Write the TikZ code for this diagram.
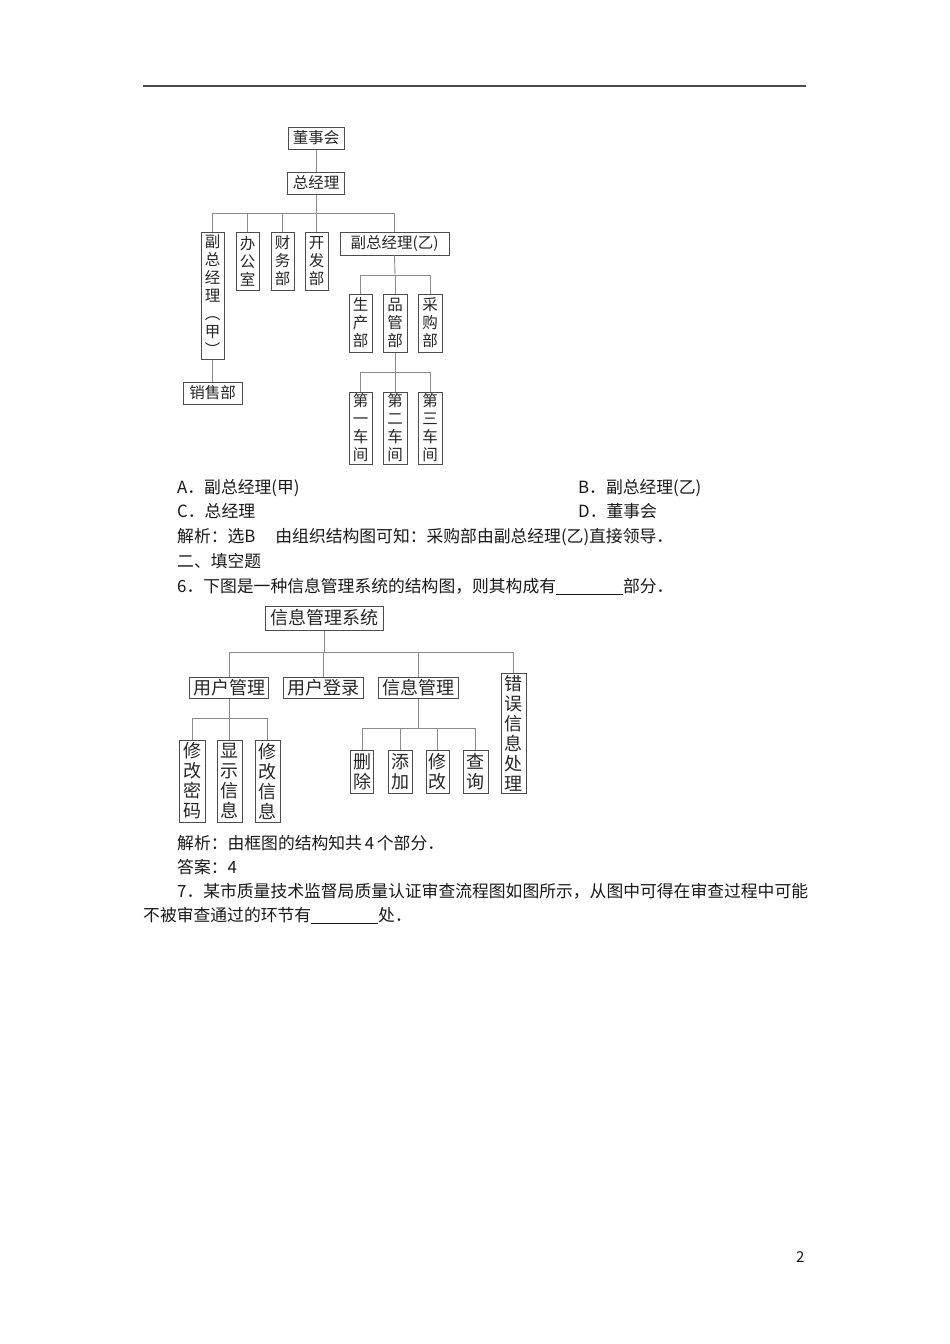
\documentclass[tikz,border=0pt]{standalone}
\usepackage{fontspec}
\setmainfont{Noto Sans CJK SC}
\begin{document}
\begin{tikzpicture}[x=1pt,y=-1pt,
  box/.style={draw=black!70, line width=1pt, inner sep=0pt, text=black!85},
  dA/.style={box, font=\fontsize{15.5}{18}\selectfont, align=center},
  dB/.style={box, font=\fontsize{18}{20}\selectfont, align=center},
  link/.style={draw=black!45, line width=0.9pt},
  txt/.style={anchor=base west, inner sep=0pt, font=\fontsize{16.8}{25}\selectfont, text=black!90}]
\useasboundingbox (0,0) rectangle (950,1344);
\fill[white] (0,0) rectangle (950,1344);

% top rule
\draw[line width=1.5pt, black!70] (143,86) -- (806,86);

% ---------- Diagram 1 ----------
\node[dA, minimum width=56, minimum height=22] (dsh) at (316,138) {董事会};
\node[dA, minimum width=57, minimum height=22] (zjl) at (316,183) {总经理};
\node[dA, minimum width=23, minimum height=127] (fzA) at (212.5,295.5) {副\\总\\经\\理\\︵\\甲\\︶};
\node[dA, minimum width=23, minimum height=58] (bgs) at (247.5,261) {办\\公\\室};
\node[dA, minimum width=23, minimum height=58] (cwb) at (282.5,261) {财\\务\\部};
\node[dA, minimum width=23, minimum height=58] (kfb) at (316.5,261) {开\\发\\部};
\node[dA, minimum width=109, minimum height=23] (fzB) at (394.5,243.5) {副总经理(乙)};
\node[dA, minimum width=59, minimum height=22] (xsb) at (212.5,393) {销售部};
\node[dA, minimum width=23, minimum height=58] (scb) at (360.5,323) {生\\产\\部};
\node[dA, minimum width=24, minimum height=58] (pgb) at (395,323) {品\\管\\部};
\node[dA, minimum width=24, minimum height=58] (cgb) at (430,323) {采\\购\\部};
\node[dA, minimum width=23, minimum height=72] (cj1) at (360.5,428) {第\\一\\车\\间};
\node[dA, minimum width=24, minimum height=72] (cj2) at (395,428) {第\\二\\车\\间};
\node[dA, minimum width=24, minimum height=72] (cj3) at (430,428) {第\\三\\车\\间};

\coordinate (b1) at (316,213);
\coordinate (b2) at (395,275);
\coordinate (b3) at (395,372);
\draw[link] (dsh) -- (zjl);
\draw[link] (zjl.south) -- (b1);
\draw[link] (fzA.north |- b1) -- (fzB.north |- b1);
\foreach \c in {fzA,bgs,cwb,kfb,fzB} \draw[link] (\c.north |- b1) -- (\c.north);
\draw[link] (fzA) -- (xsb);
\draw[link] (fzB.south) -- (b2);
\draw[link] (scb.north |- b2) -- (cgb.north |- b2);
\foreach \c in {scb,pgb,cgb} \draw[link] (\c.north |- b2) -- (\c.north);
\draw[link] (pgb.south) -- (b3);
\draw[link] (cj1.north |- b3) -- (cj3.north |- b3);
\foreach \c in {cj1,cj2,cj3} \draw[link] (\c.north |- b3) -- (\c.north);

% ---------- Text block 1 ----------
\node[txt] (tA) at (177,493.5) {A．副总经理(甲)};
\node[txt] (tB) at (578,493.5) {B．副总经理(乙)};
\node[txt] (tC) at (177,517.5) {C．总经理};
\node[txt] (tD) at (578,517.5) {D．董事会};
\node[txt] (t1) at (177,542.5) {解析：选B\hspace{20pt}由组织结构图可知：采购部由副总经理(乙)直接领导．};
\node[txt] (t2) at (177,567.5) {二、填空题};
\node[txt] (t3) at (177,592.5) {6．下图是一种信息管理系统的结构图，则其构成有\rule[-2.5pt]{67pt}{0.7pt}部分．};

% ---------- Diagram 2 ----------
\node[dB, minimum width=118, minimum height=24] (xt) at (324,618) {信息管理系统};
\node[dB, minimum width=79, minimum height=21] (yhgl) at (229,687.5) {用户管理};
\node[dB, minimum width=80, minimum height=21] (yhdl) at (323.5,687.5) {用户登录};
\node[dB, minimum width=80, minimum height=21] (xxgl) at (418,687.5) {信息管理};
\node[dB, minimum width=25, minimum height=120] (cwxx) at (513.5,733) {错\\误\\信\\息\\处\\理};
\node[dB, minimum width=26, minimum height=82] (xgmm) at (192,781) {修\\改\\密\\码};
\node[dB, minimum width=25, minimum height=82] (xsxx) at (229.5,781) {显\\示\\信\\息};
\node[dB, minimum width=25, minimum height=82] (xgxx) at (267.5,781) {修\\改\\信\\息};
\node[dB, minimum width=23, minimum height=43] (sc) at (362,771.5) {删\\除};
\node[dB, minimum width=24, minimum height=43] (tj) at (400,771.5) {添\\加};
\node[dB, minimum width=23, minimum height=43] (xg) at (437.5,771.5) {修\\改};
\node[dB, minimum width=25, minimum height=43] (cx) at (475.5,771.5) {查\\询};

\coordinate (b4) at (324,652);
\coordinate (b5) at (229,718);
\coordinate (b6) at (418,728);
\draw[link] (xt.south) -- (b4);
\draw[link] (yhgl.north |- b4) -- (cwxx.north |- b4);
\foreach \c in {yhgl,yhdl,xxgl,cwxx} \draw[link] (\c.north |- b4) -- (\c.north);
\draw[link] (yhgl.south) -- (b5);
\draw[link] (xgmm.north |- b5) -- (xgxx.north |- b5);
\foreach \c in {xgmm,xsxx,xgxx} \draw[link] (\c.north |- b5) -- (\c.north);
\draw[link] (xxgl.south) -- (b6);
\draw[link] (sc.north |- b6) -- (cx.north |- b6);
\foreach \c in {sc,tj,xg,cx} \draw[link] (\c.north |- b6) -- (\c.north);

% ---------- Text block 2 ----------
\node[txt] (t4) at (177,849.5) {解析：由框图的结构知共\,4\,个部分．};
\node[txt] (t5) at (177,873.5) {答案：4};
\node[txt] (t6) at (177,897.5) {7．某市质量技术监督局质量认证审查流程图如图所示，从图中可得在审查过程中可能};
\node[txt] (t7) at (143,921.5) {不被审查通过的环节有\rule[-2.5pt]{67pt}{0.7pt}处．};

% page number
\node[txt, font=\fontsize{15}{18}\selectfont] (pn) at (796,1262) {2};
\end{tikzpicture}
\end{document}
